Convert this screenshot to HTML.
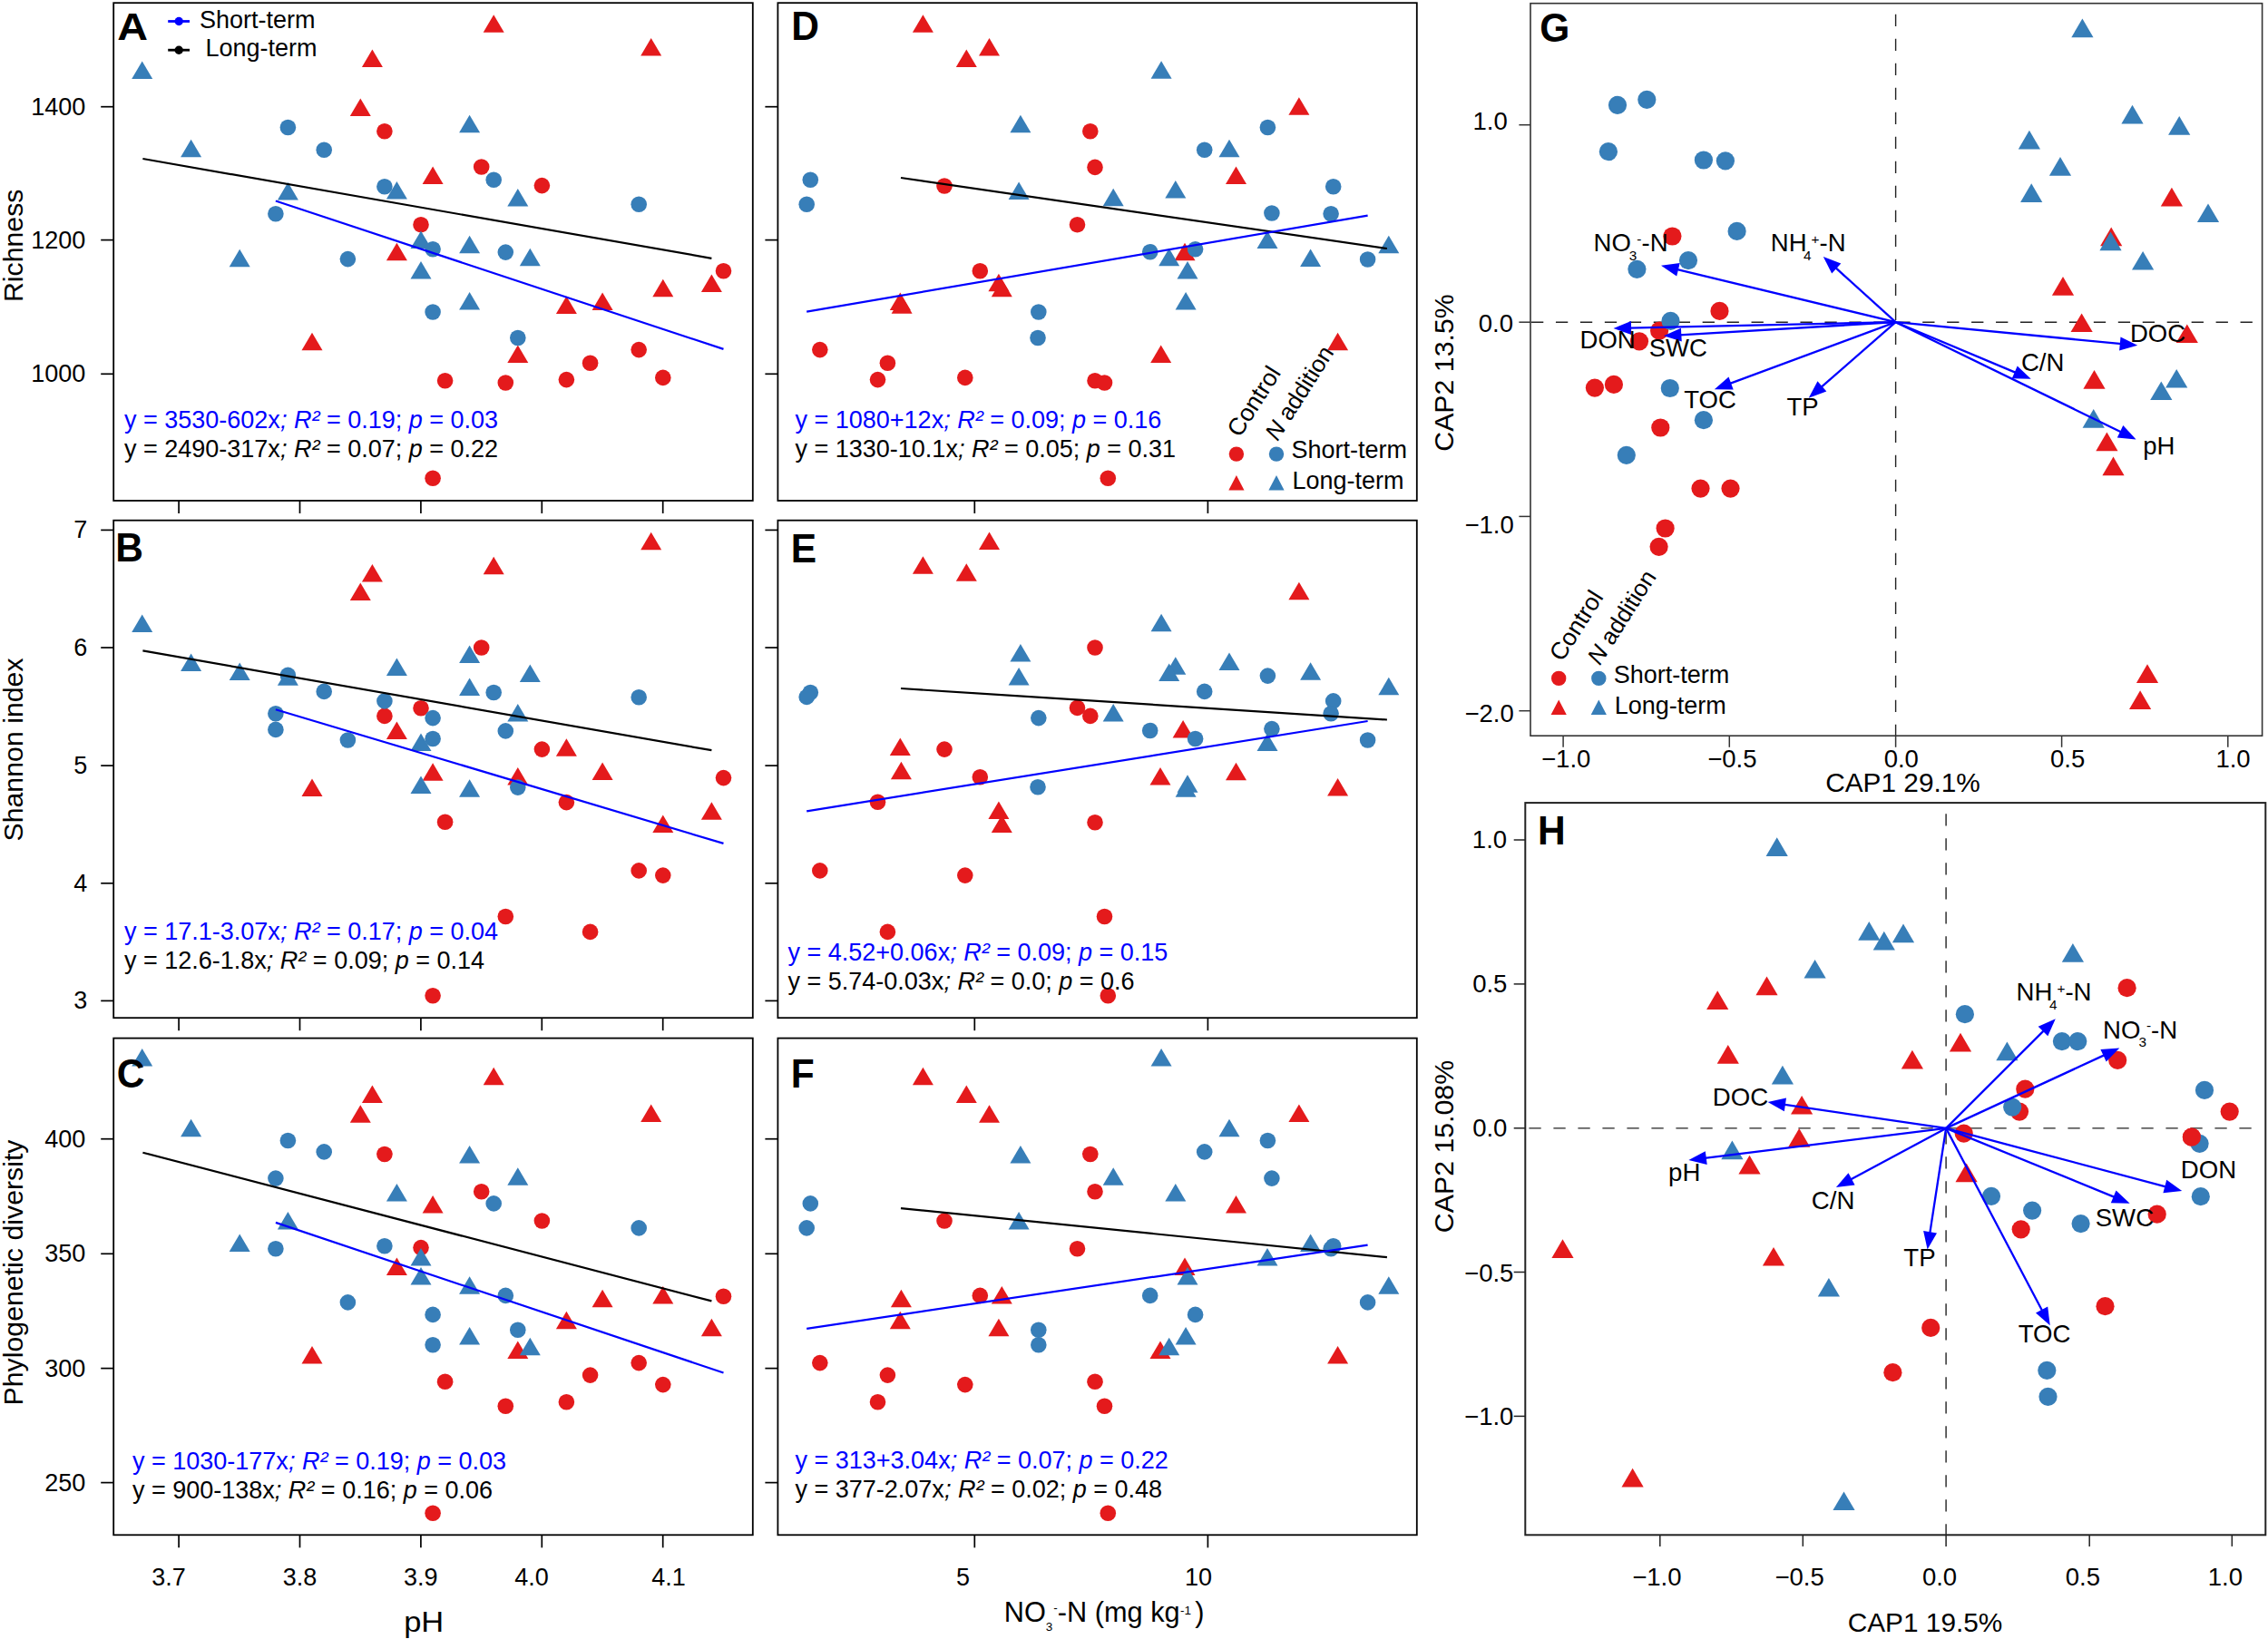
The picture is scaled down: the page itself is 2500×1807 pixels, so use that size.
<!DOCTYPE html><html><head><meta charset="utf-8"><title>Figure</title><style>html,body{margin:0;padding:0;background:#fff}svg{display:block}</style></head><body>
<svg width="2500" height="1807" viewBox="0 0 2500 1807" font-family="'Liberation Sans', sans-serif">
<rect width="2500" height="1807" fill="#fff"/>
<g>
<circle cx="423.9" cy="144.7" r="8.8" fill="#E41A1C"/>
<circle cx="530.7" cy="184" r="8.8" fill="#E41A1C"/>
<circle cx="597.4" cy="204.6" r="8.8" fill="#E41A1C"/>
<circle cx="464" cy="247.7" r="8.8" fill="#E41A1C"/>
<circle cx="797.5" cy="298.7" r="8.8" fill="#E41A1C"/>
<circle cx="490.6" cy="419.8" r="8.8" fill="#E41A1C"/>
<circle cx="557.3" cy="422" r="8.8" fill="#E41A1C"/>
<circle cx="624.4" cy="418.6" r="8.8" fill="#E41A1C"/>
<circle cx="650.6" cy="400.3" r="8.8" fill="#E41A1C"/>
<circle cx="704.2" cy="385.6" r="8.8" fill="#E41A1C"/>
<circle cx="730.8" cy="416.4" r="8.8" fill="#E41A1C"/>
<circle cx="477.1" cy="527.3" r="8.8" fill="#E41A1C"/>
<path d="M544.2 16.2L555.7 35.7L532.7 35.7Z" fill="#E41A1C"/>
<path d="M410.4 54.5L421.9 74L398.9 74Z" fill="#E41A1C"/>
<path d="M717.7 42.1L729.2 61.6L706.2 61.6Z" fill="#E41A1C"/>
<path d="M397.3 108.4L408.8 127.9L385.8 127.9Z" fill="#E41A1C"/>
<path d="M477.1 183.4L488.6 202.9L465.6 202.9Z" fill="#E41A1C"/>
<path d="M437.4 267.7L448.9 287.2L425.9 287.2Z" fill="#E41A1C"/>
<path d="M344 366.7L355.5 386.2L332.5 386.2Z" fill="#E41A1C"/>
<path d="M570.8 380.5L582.3 400L559.3 400Z" fill="#E41A1C"/>
<path d="M624.4 326.6L635.9 346.1L612.9 346.1Z" fill="#E41A1C"/>
<path d="M664.1 322.4L675.6 341.9L652.6 341.9Z" fill="#E41A1C"/>
<path d="M730.8 307.8L742.3 327.3L719.3 327.3Z" fill="#E41A1C"/>
<path d="M784.4 302.6L795.9 322.1L772.9 322.1Z" fill="#E41A1C"/>
<circle cx="317.4" cy="140.5" r="8.8" fill="#377EB8"/>
<circle cx="357.2" cy="165.3" r="8.8" fill="#377EB8"/>
<circle cx="303.9" cy="235.7" r="8.8" fill="#377EB8"/>
<circle cx="383.4" cy="285.6" r="8.8" fill="#377EB8"/>
<circle cx="423.9" cy="205.8" r="8.8" fill="#377EB8"/>
<circle cx="477.1" cy="274.7" r="8.8" fill="#377EB8"/>
<circle cx="477.1" cy="344" r="8.8" fill="#377EB8"/>
<circle cx="544.2" cy="198.3" r="8.8" fill="#377EB8"/>
<circle cx="557.3" cy="278.1" r="8.8" fill="#377EB8"/>
<circle cx="570.8" cy="372.5" r="8.8" fill="#377EB8"/>
<circle cx="704.2" cy="225.2" r="8.8" fill="#377EB8"/>
<path d="M156.7 67.6L168.2 87.1L145.2 87.1Z" fill="#377EB8"/>
<path d="M210.6 153.8L222.1 173.3L199.1 173.3Z" fill="#377EB8"/>
<path d="M264.2 274.8L275.7 294.3L252.7 294.3Z" fill="#377EB8"/>
<path d="M317.4 201L328.9 220.5L305.9 220.5Z" fill="#377EB8"/>
<path d="M437.4 199.9L448.9 219.4L425.9 219.4Z" fill="#377EB8"/>
<path d="M464 254.6L475.5 274.1L452.5 274.1Z" fill="#377EB8"/>
<path d="M464 287.9L475.5 307.4L452.5 307.4Z" fill="#377EB8"/>
<path d="M517.6 126.8L529.1 146.3L506.1 146.3Z" fill="#377EB8"/>
<path d="M517.6 259.8L529.1 279.3L506.1 279.3Z" fill="#377EB8"/>
<path d="M517.6 322.1L529.1 341.6L506.1 341.6Z" fill="#377EB8"/>
<path d="M570.8 208.1L582.3 227.6L559.3 227.6Z" fill="#377EB8"/>
<path d="M584.3 273.7L595.8 293.2L572.8 293.2Z" fill="#377EB8"/>
<line x1="157.4" y1="175" x2="784.4" y2="284.8" stroke="#000" stroke-width="2.2"/>
<line x1="303.9" y1="221.5" x2="797.5" y2="384.9" stroke="#0000FF" stroke-width="2.2"/>
<rect x="125.2" y="3.2" width="704.6" height="548.8" fill="none" stroke="#000" stroke-width="1.8"/>
<line x1="197.1" y1="552" x2="197.1" y2="566" stroke="#000" stroke-width="1.7"/>
<line x1="330.5" y1="552" x2="330.5" y2="566" stroke="#000" stroke-width="1.7"/>
<line x1="463.9" y1="552" x2="463.9" y2="566" stroke="#000" stroke-width="1.7"/>
<line x1="597.3" y1="552" x2="597.3" y2="566" stroke="#000" stroke-width="1.7"/>
<line x1="730.7" y1="552" x2="730.7" y2="566" stroke="#000" stroke-width="1.7"/>
<line x1="111.2" y1="117.7" x2="125.2" y2="117.7" stroke="#000" stroke-width="1.7"/>
<text x="94.4" y="126.6" font-size="27" text-anchor="end" fill="#000">1400</text>
<line x1="111.2" y1="264.6" x2="125.2" y2="264.6" stroke="#000" stroke-width="1.7"/>
<text x="94.4" y="273.5" font-size="27" text-anchor="end" fill="#000">1200</text>
<line x1="111.2" y1="412.3" x2="125.2" y2="412.3" stroke="#000" stroke-width="1.7"/>
<text x="94.4" y="421.2" font-size="27" text-anchor="end" fill="#000">1000</text>
</g>
<g>
<circle cx="530.7" cy="714" r="8.8" fill="#E41A1C"/>
<circle cx="464" cy="780.7" r="8.8" fill="#E41A1C"/>
<circle cx="423.9" cy="789.4" r="8.8" fill="#E41A1C"/>
<circle cx="597.4" cy="826.1" r="8.8" fill="#E41A1C"/>
<circle cx="797.5" cy="857.6" r="8.8" fill="#E41A1C"/>
<circle cx="624.4" cy="884.6" r="8.8" fill="#E41A1C"/>
<circle cx="490.6" cy="906.3" r="8.8" fill="#E41A1C"/>
<circle cx="704.2" cy="959.9" r="8.8" fill="#E41A1C"/>
<circle cx="730.8" cy="965.1" r="8.8" fill="#E41A1C"/>
<circle cx="557.3" cy="1010.5" r="8.8" fill="#E41A1C"/>
<circle cx="650.6" cy="1027.4" r="8.8" fill="#E41A1C"/>
<circle cx="477.1" cy="1097.8" r="8.8" fill="#E41A1C"/>
<path d="M717.7 586.7L729.2 606.2L706.2 606.2Z" fill="#E41A1C"/>
<path d="M544.2 613.7L555.7 633.2L532.7 633.2Z" fill="#E41A1C"/>
<path d="M410.4 622L421.9 641.5L398.9 641.5Z" fill="#E41A1C"/>
<path d="M397.3 642.6L408.8 662.1L385.8 662.1Z" fill="#E41A1C"/>
<path d="M437.4 795.5L448.9 815L425.9 815Z" fill="#E41A1C"/>
<path d="M624.4 814.2L635.9 833.7L612.9 833.7Z" fill="#E41A1C"/>
<path d="M477.1 841.2L488.6 860.7L465.6 860.7Z" fill="#E41A1C"/>
<path d="M664.1 840.5L675.6 860L652.6 860Z" fill="#E41A1C"/>
<path d="M344 858.4L355.5 877.9L332.5 877.9Z" fill="#E41A1C"/>
<path d="M570.8 846.1L582.3 865.6L559.3 865.6Z" fill="#E41A1C"/>
<path d="M730.8 898.5L742.3 918L719.3 918Z" fill="#E41A1C"/>
<path d="M784.4 884.3L795.9 903.8L772.9 903.8Z" fill="#E41A1C"/>
<circle cx="317.4" cy="744.4" r="8.8" fill="#377EB8"/>
<circle cx="357.2" cy="762.4" r="8.8" fill="#377EB8"/>
<circle cx="303.9" cy="786.7" r="8.8" fill="#377EB8"/>
<circle cx="303.9" cy="804.4" r="8.8" fill="#377EB8"/>
<circle cx="383.4" cy="816" r="8.8" fill="#377EB8"/>
<circle cx="423.9" cy="772.9" r="8.8" fill="#377EB8"/>
<circle cx="477.1" cy="791.6" r="8.8" fill="#377EB8"/>
<circle cx="477.1" cy="814.5" r="8.8" fill="#377EB8"/>
<circle cx="544.2" cy="763.5" r="8.8" fill="#377EB8"/>
<circle cx="557.3" cy="805.9" r="8.8" fill="#377EB8"/>
<circle cx="570.8" cy="868.1" r="8.8" fill="#377EB8"/>
<circle cx="704.2" cy="768.8" r="8.8" fill="#377EB8"/>
<path d="M156.7 677.4L168.2 696.9L145.2 696.9Z" fill="#377EB8"/>
<path d="M210.6 720.5L222.1 740L199.1 740Z" fill="#377EB8"/>
<path d="M264.2 730.6L275.7 750.1L252.7 750.1Z" fill="#377EB8"/>
<path d="M317.4 736.3L328.9 755.8L305.9 755.8Z" fill="#377EB8"/>
<path d="M437.4 725.4L448.9 744.9L425.9 744.9Z" fill="#377EB8"/>
<path d="M464 808.6L475.5 828.1L452.5 828.1Z" fill="#377EB8"/>
<path d="M464 855.4L475.5 874.9L452.5 874.9Z" fill="#377EB8"/>
<path d="M517.6 711.5L529.1 731L506.1 731Z" fill="#377EB8"/>
<path d="M517.6 747.5L529.1 767L506.1 767Z" fill="#377EB8"/>
<path d="M517.6 859.2L529.1 878.7L506.1 878.7Z" fill="#377EB8"/>
<path d="M570.8 776L582.3 795.5L559.3 795.5Z" fill="#377EB8"/>
<path d="M584.3 732.5L595.8 752L572.8 752Z" fill="#377EB8"/>
<line x1="157.4" y1="717.4" x2="784.4" y2="827.2" stroke="#000" stroke-width="2.2"/>
<line x1="303.9" y1="782.2" x2="797.5" y2="929.9" stroke="#0000FF" stroke-width="2.2"/>
<rect x="125.2" y="573.7" width="704.6" height="548.5" fill="none" stroke="#000" stroke-width="1.8"/>
<line x1="197.1" y1="1122.2" x2="197.1" y2="1136.2" stroke="#000" stroke-width="1.7"/>
<line x1="330.5" y1="1122.2" x2="330.5" y2="1136.2" stroke="#000" stroke-width="1.7"/>
<line x1="463.9" y1="1122.2" x2="463.9" y2="1136.2" stroke="#000" stroke-width="1.7"/>
<line x1="597.3" y1="1122.2" x2="597.3" y2="1136.2" stroke="#000" stroke-width="1.7"/>
<line x1="730.7" y1="1122.2" x2="730.7" y2="1136.2" stroke="#000" stroke-width="1.7"/>
<line x1="111.2" y1="584.4" x2="125.2" y2="584.4" stroke="#000" stroke-width="1.7"/>
<text x="96.2" y="593.3" font-size="27" text-anchor="end" fill="#000">7</text>
<line x1="111.2" y1="714" x2="125.2" y2="714" stroke="#000" stroke-width="1.7"/>
<text x="96.2" y="722.9" font-size="27" text-anchor="end" fill="#000">6</text>
<line x1="111.2" y1="844.1" x2="125.2" y2="844.1" stroke="#000" stroke-width="1.7"/>
<text x="96.2" y="853" font-size="27" text-anchor="end" fill="#000">5</text>
<line x1="111.2" y1="973.8" x2="125.2" y2="973.8" stroke="#000" stroke-width="1.7"/>
<text x="96.2" y="982.7" font-size="27" text-anchor="end" fill="#000">4</text>
<line x1="111.2" y1="1103.4" x2="125.2" y2="1103.4" stroke="#000" stroke-width="1.7"/>
<text x="96.2" y="1112.3" font-size="27" text-anchor="end" fill="#000">3</text>
</g>
<g>
<circle cx="423.9" cy="1272.5" r="8.8" fill="#E41A1C"/>
<circle cx="530.7" cy="1313.8" r="8.8" fill="#E41A1C"/>
<circle cx="597.4" cy="1346" r="8.8" fill="#E41A1C"/>
<circle cx="464" cy="1375.6" r="8.8" fill="#E41A1C"/>
<circle cx="797.5" cy="1429.2" r="8.8" fill="#E41A1C"/>
<circle cx="490.6" cy="1523.3" r="8.8" fill="#E41A1C"/>
<circle cx="557.3" cy="1550.2" r="8.8" fill="#E41A1C"/>
<circle cx="624.4" cy="1545.7" r="8.8" fill="#E41A1C"/>
<circle cx="650.6" cy="1516.1" r="8.8" fill="#E41A1C"/>
<circle cx="704.2" cy="1502.6" r="8.8" fill="#E41A1C"/>
<circle cx="730.8" cy="1526.6" r="8.8" fill="#E41A1C"/>
<circle cx="477.1" cy="1668.3" r="8.8" fill="#E41A1C"/>
<path d="M544.2 1176.7L555.7 1196.2L532.7 1196.2Z" fill="#E41A1C"/>
<path d="M410.4 1196.6L421.9 1216.1L398.9 1216.1Z" fill="#E41A1C"/>
<path d="M397.3 1218.3L408.8 1237.8L385.8 1237.8Z" fill="#E41A1C"/>
<path d="M717.7 1217.6L729.2 1237.1L706.2 1237.1Z" fill="#E41A1C"/>
<path d="M477.1 1318L488.6 1337.5L465.6 1337.5Z" fill="#E41A1C"/>
<path d="M437.4 1386.6L448.9 1406.1L425.9 1406.1Z" fill="#E41A1C"/>
<path d="M344 1484L355.5 1503.5L332.5 1503.5Z" fill="#E41A1C"/>
<path d="M570.8 1478.4L582.3 1497.9L559.3 1497.9Z" fill="#E41A1C"/>
<path d="M624.4 1445.8L635.9 1465.3L612.9 1465.3Z" fill="#E41A1C"/>
<path d="M664.1 1421.8L675.6 1441.3L652.6 1441.3Z" fill="#E41A1C"/>
<path d="M730.8 1418.1L742.3 1437.6L719.3 1437.6Z" fill="#E41A1C"/>
<path d="M784.4 1453.7L795.9 1473.2L772.9 1473.2Z" fill="#E41A1C"/>
<circle cx="317.4" cy="1257.5" r="8.8" fill="#377EB8"/>
<circle cx="357.2" cy="1269.9" r="8.8" fill="#377EB8"/>
<circle cx="303.9" cy="1299.1" r="8.8" fill="#377EB8"/>
<circle cx="303.9" cy="1376.7" r="8.8" fill="#377EB8"/>
<circle cx="423.9" cy="1373.7" r="8.8" fill="#377EB8"/>
<circle cx="383.4" cy="1435.9" r="8.8" fill="#377EB8"/>
<circle cx="477.1" cy="1449.4" r="8.8" fill="#377EB8"/>
<circle cx="477.1" cy="1482.8" r="8.8" fill="#377EB8"/>
<circle cx="544.2" cy="1326.9" r="8.8" fill="#377EB8"/>
<circle cx="557.3" cy="1428.4" r="8.8" fill="#377EB8"/>
<circle cx="570.8" cy="1466.3" r="8.8" fill="#377EB8"/>
<circle cx="704.2" cy="1353.9" r="8.8" fill="#377EB8"/>
<path d="M156.7 1156.1L168.2 1175.6L145.2 1175.6Z" fill="#377EB8"/>
<path d="M210.6 1233.7L222.1 1253.2L199.1 1253.2Z" fill="#377EB8"/>
<path d="M264.2 1360.4L275.7 1379.9L252.7 1379.9Z" fill="#377EB8"/>
<path d="M317.4 1336L328.9 1355.5L305.9 1355.5Z" fill="#377EB8"/>
<path d="M437.4 1304.9L448.9 1324.4L425.9 1324.4Z" fill="#377EB8"/>
<path d="M464 1376.1L475.5 1395.6L452.5 1395.6Z" fill="#377EB8"/>
<path d="M464 1397.1L475.5 1416.6L452.5 1416.6Z" fill="#377EB8"/>
<path d="M517.6 1262.9L529.1 1282.4L506.1 1282.4Z" fill="#377EB8"/>
<path d="M517.6 1407.2L529.1 1426.7L506.1 1426.7Z" fill="#377EB8"/>
<path d="M517.6 1463L529.1 1482.5L506.1 1482.5Z" fill="#377EB8"/>
<path d="M570.8 1287.3L582.3 1306.8L559.3 1306.8Z" fill="#377EB8"/>
<path d="M584.3 1474.7L595.8 1494.2L572.8 1494.2Z" fill="#377EB8"/>
<line x1="157.4" y1="1270.7" x2="784.4" y2="1434.4" stroke="#000" stroke-width="2.2"/>
<line x1="303.9" y1="1347.9" x2="797.5" y2="1513.5" stroke="#0000FF" stroke-width="2.2"/>
<rect x="125.2" y="1144.6" width="704.6" height="547.7" fill="none" stroke="#000" stroke-width="1.8"/>
<line x1="197.1" y1="1692.3" x2="197.1" y2="1706.3" stroke="#000" stroke-width="1.7"/>
<line x1="330.5" y1="1692.3" x2="330.5" y2="1706.3" stroke="#000" stroke-width="1.7"/>
<line x1="463.9" y1="1692.3" x2="463.9" y2="1706.3" stroke="#000" stroke-width="1.7"/>
<line x1="597.3" y1="1692.3" x2="597.3" y2="1706.3" stroke="#000" stroke-width="1.7"/>
<line x1="730.7" y1="1692.3" x2="730.7" y2="1706.3" stroke="#000" stroke-width="1.7"/>
<line x1="111.2" y1="1255.7" x2="125.2" y2="1255.7" stroke="#000" stroke-width="1.7"/>
<text x="94.4" y="1264.6" font-size="27" text-anchor="end" fill="#000">400</text>
<line x1="111.2" y1="1382.3" x2="125.2" y2="1382.3" stroke="#000" stroke-width="1.7"/>
<text x="94.4" y="1391.2" font-size="27" text-anchor="end" fill="#000">350</text>
<line x1="111.2" y1="1508.6" x2="125.2" y2="1508.6" stroke="#000" stroke-width="1.7"/>
<text x="94.4" y="1517.5" font-size="27" text-anchor="end" fill="#000">300</text>
<line x1="111.2" y1="1634.6" x2="125.2" y2="1634.6" stroke="#000" stroke-width="1.7"/>
<text x="94.4" y="1643.5" font-size="27" text-anchor="end" fill="#000">250</text>
</g>
<g>
<circle cx="1201.8" cy="144.7" r="8.8" fill="#E41A1C"/>
<circle cx="1207" cy="184.4" r="8.8" fill="#E41A1C"/>
<circle cx="1041" cy="205" r="8.8" fill="#E41A1C"/>
<circle cx="1187.5" cy="247.7" r="8.8" fill="#E41A1C"/>
<circle cx="1080.3" cy="298.7" r="8.8" fill="#E41A1C"/>
<circle cx="903.8" cy="385.6" r="8.8" fill="#E41A1C"/>
<circle cx="978.4" cy="400.3" r="8.8" fill="#E41A1C"/>
<circle cx="967.5" cy="418.6" r="8.8" fill="#E41A1C"/>
<circle cx="1063.8" cy="416.4" r="8.8" fill="#E41A1C"/>
<circle cx="1207" cy="419.8" r="8.8" fill="#E41A1C"/>
<circle cx="1217.5" cy="422" r="8.8" fill="#E41A1C"/>
<circle cx="1221.3" cy="527.3" r="8.8" fill="#E41A1C"/>
<path d="M1017.4 16.2L1028.9 35.7L1005.9 35.7Z" fill="#E41A1C"/>
<path d="M1090.5 42.1L1102 61.6L1079 61.6Z" fill="#E41A1C"/>
<path d="M1065.3 54.5L1076.8 74L1053.8 74Z" fill="#E41A1C"/>
<path d="M1431.9 107.3L1443.4 126.8L1420.4 126.8Z" fill="#E41A1C"/>
<path d="M1362.5 183.4L1374 202.9L1351 202.9Z" fill="#E41A1C"/>
<path d="M1306 267.7L1317.5 287.2L1294.5 287.2Z" fill="#E41A1C"/>
<path d="M1100.9 301.8L1112.4 321.3L1089.4 321.3Z" fill="#E41A1C"/>
<path d="M1104.3 307.8L1115.8 327.3L1092.8 327.3Z" fill="#E41A1C"/>
<path d="M992.3 322.4L1003.8 341.9L980.8 341.9Z" fill="#E41A1C"/>
<path d="M994.1 326.2L1005.6 345.7L982.6 345.7Z" fill="#E41A1C"/>
<path d="M1279.7 380.5L1291.2 400L1268.2 400Z" fill="#E41A1C"/>
<path d="M1474.6 366.7L1486.1 386.2L1463.1 386.2Z" fill="#E41A1C"/>
<circle cx="893.3" cy="198.3" r="8.8" fill="#377EB8"/>
<circle cx="889.2" cy="225.2" r="8.8" fill="#377EB8"/>
<circle cx="1397.4" cy="140.5" r="8.8" fill="#377EB8"/>
<circle cx="1327.7" cy="165.3" r="8.8" fill="#377EB8"/>
<circle cx="1469.7" cy="205.8" r="8.8" fill="#377EB8"/>
<circle cx="1401.9" cy="235" r="8.8" fill="#377EB8"/>
<circle cx="1467.1" cy="235.7" r="8.8" fill="#377EB8"/>
<circle cx="1267.7" cy="277.7" r="8.8" fill="#377EB8"/>
<circle cx="1317.6" cy="274.7" r="8.8" fill="#377EB8"/>
<circle cx="1507.6" cy="286" r="8.8" fill="#377EB8"/>
<circle cx="1144.8" cy="344" r="8.8" fill="#377EB8"/>
<circle cx="1144" cy="372.5" r="8.8" fill="#377EB8"/>
<path d="M1280.1 67.2L1291.6 86.7L1268.6 86.7Z" fill="#377EB8"/>
<path d="M1124.9 126.8L1136.4 146.3L1113.4 146.3Z" fill="#377EB8"/>
<path d="M1355 153.8L1366.5 173.3L1343.5 173.3Z" fill="#377EB8"/>
<path d="M1123.1 200.6L1134.6 220.1L1111.6 220.1Z" fill="#377EB8"/>
<path d="M1295.8 199.1L1307.3 218.6L1284.3 218.6Z" fill="#377EB8"/>
<path d="M1227.2 207.7L1238.7 227.2L1215.7 227.2Z" fill="#377EB8"/>
<path d="M1397 254.6L1408.5 274.1L1385.5 274.1Z" fill="#377EB8"/>
<path d="M1288.7 273.7L1300.2 293.2L1277.2 293.2Z" fill="#377EB8"/>
<path d="M1309 287.9L1320.5 307.4L1297.5 307.4Z" fill="#377EB8"/>
<path d="M1307.1 322.1L1318.6 341.6L1295.6 341.6Z" fill="#377EB8"/>
<path d="M1444.6 274.5L1456.1 294L1433.1 294Z" fill="#377EB8"/>
<path d="M1530.8 259.8L1542.3 279.3L1519.3 279.3Z" fill="#377EB8"/>
<line x1="993" y1="196" x2="1528.9" y2="274" stroke="#000" stroke-width="2.2"/>
<line x1="889.2" y1="343.7" x2="1507.6" y2="237.6" stroke="#0000FF" stroke-width="2.2"/>
<rect x="857.4" y="3.2" width="704.4" height="548.8" fill="none" stroke="#000" stroke-width="1.8"/>
<line x1="1074.3" y1="552" x2="1074.3" y2="566" stroke="#000" stroke-width="1.7"/>
<line x1="1331.4" y1="552" x2="1331.4" y2="566" stroke="#000" stroke-width="1.7"/>
<line x1="843.4" y1="117.7" x2="857.4" y2="117.7" stroke="#000" stroke-width="1.7"/>
<line x1="843.4" y1="264.6" x2="857.4" y2="264.6" stroke="#000" stroke-width="1.7"/>
<line x1="843.4" y1="412.3" x2="857.4" y2="412.3" stroke="#000" stroke-width="1.7"/>
</g>
<g>
<circle cx="1207" cy="714" r="8.8" fill="#E41A1C"/>
<circle cx="1187.5" cy="780.4" r="8.8" fill="#E41A1C"/>
<circle cx="1201.8" cy="789.4" r="8.8" fill="#E41A1C"/>
<circle cx="1041" cy="826.1" r="8.8" fill="#E41A1C"/>
<circle cx="1080.3" cy="856.8" r="8.8" fill="#E41A1C"/>
<circle cx="967.5" cy="884.2" r="8.8" fill="#E41A1C"/>
<circle cx="1207" cy="906.7" r="8.8" fill="#E41A1C"/>
<circle cx="903.8" cy="959.9" r="8.8" fill="#E41A1C"/>
<circle cx="1063.8" cy="965.1" r="8.8" fill="#E41A1C"/>
<circle cx="1217.5" cy="1010.5" r="8.8" fill="#E41A1C"/>
<circle cx="978.4" cy="1027.4" r="8.8" fill="#E41A1C"/>
<circle cx="1221.3" cy="1097.8" r="8.8" fill="#E41A1C"/>
<path d="M1090.5 586.4L1102 605.9L1079 605.9Z" fill="#E41A1C"/>
<path d="M1017.4 613.3L1028.9 632.8L1005.9 632.8Z" fill="#E41A1C"/>
<path d="M1065.3 621.2L1076.8 640.7L1053.8 640.7Z" fill="#E41A1C"/>
<path d="M1431.9 641.8L1443.4 661.3L1420.4 661.3Z" fill="#E41A1C"/>
<path d="M1304.1 794L1315.6 813.5L1292.6 813.5Z" fill="#E41A1C"/>
<path d="M992.3 813.5L1003.8 833L980.8 833Z" fill="#E41A1C"/>
<path d="M993.4 839.7L1004.9 859.2L981.9 859.2Z" fill="#E41A1C"/>
<path d="M1279 846.1L1290.5 865.6L1267.5 865.6Z" fill="#E41A1C"/>
<path d="M1362.5 840.8L1374 860.3L1351 860.3Z" fill="#E41A1C"/>
<path d="M1474.6 858.1L1486.1 877.6L1463.1 877.6Z" fill="#E41A1C"/>
<path d="M1100.9 883.6L1112.4 903.1L1089.4 903.1Z" fill="#E41A1C"/>
<path d="M1104.3 898.5L1115.8 918L1092.8 918Z" fill="#E41A1C"/>
<circle cx="893.3" cy="763.5" r="8.8" fill="#377EB8"/>
<circle cx="889.2" cy="768.4" r="8.8" fill="#377EB8"/>
<circle cx="1397.4" cy="745.1" r="8.8" fill="#377EB8"/>
<circle cx="1327.7" cy="762.4" r="8.8" fill="#377EB8"/>
<circle cx="1469.7" cy="772.9" r="8.8" fill="#377EB8"/>
<circle cx="1467.1" cy="786.7" r="8.8" fill="#377EB8"/>
<circle cx="1144.8" cy="791.6" r="8.8" fill="#377EB8"/>
<circle cx="1267.7" cy="805.5" r="8.8" fill="#377EB8"/>
<circle cx="1401.9" cy="803.6" r="8.8" fill="#377EB8"/>
<circle cx="1317.6" cy="814.5" r="8.8" fill="#377EB8"/>
<circle cx="1507.6" cy="816" r="8.8" fill="#377EB8"/>
<circle cx="1144" cy="867.7" r="8.8" fill="#377EB8"/>
<path d="M1280.1 676.7L1291.6 696.2L1268.6 696.2Z" fill="#377EB8"/>
<path d="M1124.9 710L1136.4 729.5L1113.4 729.5Z" fill="#377EB8"/>
<path d="M1123.1 735.9L1134.6 755.4L1111.6 755.4Z" fill="#377EB8"/>
<path d="M1295.8 724.3L1307.3 743.8L1284.3 743.8Z" fill="#377EB8"/>
<path d="M1288.7 731.4L1300.2 750.9L1277.2 750.9Z" fill="#377EB8"/>
<path d="M1355 719.4L1366.5 738.9L1343.5 738.9Z" fill="#377EB8"/>
<path d="M1444.6 730.3L1456.1 749.8L1433.1 749.8Z" fill="#377EB8"/>
<path d="M1530.8 746.8L1542.3 766.3L1519.3 766.3Z" fill="#377EB8"/>
<path d="M1227.2 776L1238.7 795.5L1215.7 795.5Z" fill="#377EB8"/>
<path d="M1397 808.6L1408.5 828.1L1385.5 828.1Z" fill="#377EB8"/>
<path d="M1309 854.3L1320.5 873.8L1297.5 873.8Z" fill="#377EB8"/>
<path d="M1307.1 859.2L1318.6 878.7L1295.6 878.7Z" fill="#377EB8"/>
<line x1="993" y1="759" x2="1528.9" y2="793.5" stroke="#000" stroke-width="2.2"/>
<line x1="889.2" y1="894.3" x2="1507.6" y2="795" stroke="#0000FF" stroke-width="2.2"/>
<rect x="857.4" y="573.7" width="704.4" height="548.5" fill="none" stroke="#000" stroke-width="1.8"/>
<line x1="1074.3" y1="1122.2" x2="1074.3" y2="1136.2" stroke="#000" stroke-width="1.7"/>
<line x1="1331.4" y1="1122.2" x2="1331.4" y2="1136.2" stroke="#000" stroke-width="1.7"/>
<line x1="843.4" y1="584.4" x2="857.4" y2="584.4" stroke="#000" stroke-width="1.7"/>
<line x1="843.4" y1="714" x2="857.4" y2="714" stroke="#000" stroke-width="1.7"/>
<line x1="843.4" y1="844.1" x2="857.4" y2="844.1" stroke="#000" stroke-width="1.7"/>
<line x1="843.4" y1="973.8" x2="857.4" y2="973.8" stroke="#000" stroke-width="1.7"/>
<line x1="843.4" y1="1103.4" x2="857.4" y2="1103.4" stroke="#000" stroke-width="1.7"/>
</g>
<g>
<circle cx="1201.8" cy="1272.5" r="8.8" fill="#E41A1C"/>
<circle cx="1207" cy="1313.8" r="8.8" fill="#E41A1C"/>
<circle cx="1041" cy="1346" r="8.8" fill="#E41A1C"/>
<circle cx="1187.5" cy="1376.7" r="8.8" fill="#E41A1C"/>
<circle cx="1080.3" cy="1428.4" r="8.8" fill="#E41A1C"/>
<circle cx="903.8" cy="1502.6" r="8.8" fill="#E41A1C"/>
<circle cx="978.4" cy="1516.1" r="8.8" fill="#E41A1C"/>
<circle cx="1063.8" cy="1526.6" r="8.8" fill="#E41A1C"/>
<circle cx="1207" cy="1523.3" r="8.8" fill="#E41A1C"/>
<circle cx="967.5" cy="1545.7" r="8.8" fill="#E41A1C"/>
<circle cx="1217.5" cy="1550.2" r="8.8" fill="#E41A1C"/>
<circle cx="1221.3" cy="1668.3" r="8.8" fill="#E41A1C"/>
<path d="M1017.4 1176.7L1028.9 1196.2L1005.9 1196.2Z" fill="#E41A1C"/>
<path d="M1065.3 1196.6L1076.8 1216.1L1053.8 1216.1Z" fill="#E41A1C"/>
<path d="M1090.5 1218.3L1102 1237.8L1079 1237.8Z" fill="#E41A1C"/>
<path d="M1431.9 1217.6L1443.4 1237.1L1420.4 1237.1Z" fill="#E41A1C"/>
<path d="M1362.5 1318L1374 1337.5L1351 1337.5Z" fill="#E41A1C"/>
<path d="M1306 1386.6L1317.5 1406.1L1294.5 1406.1Z" fill="#E41A1C"/>
<path d="M993.4 1421.8L1004.9 1441.3L981.9 1441.3Z" fill="#E41A1C"/>
<path d="M1104.3 1418.1L1115.8 1437.6L1092.8 1437.6Z" fill="#E41A1C"/>
<path d="M992.3 1445.8L1003.8 1465.3L980.8 1465.3Z" fill="#E41A1C"/>
<path d="M1100.9 1453.7L1112.4 1473.2L1089.4 1473.2Z" fill="#E41A1C"/>
<path d="M1279 1478.4L1290.5 1497.9L1267.5 1497.9Z" fill="#E41A1C"/>
<path d="M1474.6 1484L1486.1 1503.5L1463.1 1503.5Z" fill="#E41A1C"/>
<circle cx="893.3" cy="1326.9" r="8.8" fill="#377EB8"/>
<circle cx="889.2" cy="1353.9" r="8.8" fill="#377EB8"/>
<circle cx="1397.4" cy="1257.5" r="8.8" fill="#377EB8"/>
<circle cx="1327.7" cy="1269.9" r="8.8" fill="#377EB8"/>
<circle cx="1401.9" cy="1299.1" r="8.8" fill="#377EB8"/>
<circle cx="1469.7" cy="1373.7" r="8.8" fill="#377EB8"/>
<circle cx="1467.1" cy="1376.7" r="8.8" fill="#377EB8"/>
<circle cx="1267.7" cy="1428.4" r="8.8" fill="#377EB8"/>
<circle cx="1317.6" cy="1449.4" r="8.8" fill="#377EB8"/>
<circle cx="1507.6" cy="1435.9" r="8.8" fill="#377EB8"/>
<circle cx="1144.8" cy="1466.3" r="8.8" fill="#377EB8"/>
<circle cx="1144.8" cy="1482.8" r="8.8" fill="#377EB8"/>
<path d="M1280.1 1156.1L1291.6 1175.6L1268.6 1175.6Z" fill="#377EB8"/>
<path d="M1355 1233.7L1366.5 1253.2L1343.5 1253.2Z" fill="#377EB8"/>
<path d="M1124.9 1262.9L1136.4 1282.4L1113.4 1282.4Z" fill="#377EB8"/>
<path d="M1227.2 1287.3L1238.7 1306.8L1215.7 1306.8Z" fill="#377EB8"/>
<path d="M1295.8 1304.9L1307.3 1324.4L1284.3 1324.4Z" fill="#377EB8"/>
<path d="M1123.1 1336L1134.6 1355.5L1111.6 1355.5Z" fill="#377EB8"/>
<path d="M1444.6 1360.4L1456.1 1379.9L1433.1 1379.9Z" fill="#377EB8"/>
<path d="M1397 1376.1L1408.5 1395.6L1385.5 1395.6Z" fill="#377EB8"/>
<path d="M1309 1397.1L1320.5 1416.6L1297.5 1416.6Z" fill="#377EB8"/>
<path d="M1530.8 1407.2L1542.3 1426.7L1519.3 1426.7Z" fill="#377EB8"/>
<path d="M1307.1 1463L1318.6 1482.5L1295.6 1482.5Z" fill="#377EB8"/>
<path d="M1288.7 1474.7L1300.2 1494.2L1277.2 1494.2Z" fill="#377EB8"/>
<line x1="993" y1="1332.1" x2="1528.9" y2="1386.1" stroke="#000" stroke-width="2.2"/>
<line x1="889.2" y1="1464.8" x2="1507.6" y2="1372.6" stroke="#0000FF" stroke-width="2.2"/>
<rect x="857.4" y="1144.6" width="704.4" height="547.7" fill="none" stroke="#000" stroke-width="1.8"/>
<line x1="1074.3" y1="1692.3" x2="1074.3" y2="1706.3" stroke="#000" stroke-width="1.7"/>
<line x1="1331.4" y1="1692.3" x2="1331.4" y2="1706.3" stroke="#000" stroke-width="1.7"/>
<line x1="843.4" y1="1255.7" x2="857.4" y2="1255.7" stroke="#000" stroke-width="1.7"/>
<line x1="843.4" y1="1382.3" x2="857.4" y2="1382.3" stroke="#000" stroke-width="1.7"/>
<line x1="843.4" y1="1508.6" x2="857.4" y2="1508.6" stroke="#000" stroke-width="1.7"/>
<line x1="843.4" y1="1634.6" x2="857.4" y2="1634.6" stroke="#000" stroke-width="1.7"/>
</g>
<text x="186" y="1748" font-size="27" text-anchor="middle" fill="#000">3.7</text>
<text x="330.4" y="1748" font-size="27" text-anchor="middle" fill="#000">3.8</text>
<text x="463.8" y="1748" font-size="27" text-anchor="middle" fill="#000">3.9</text>
<text x="585.9" y="1748" font-size="27" text-anchor="middle" fill="#000">4.0</text>
<text x="737.1" y="1748" font-size="27" text-anchor="middle" fill="#000">4.1</text>
<text x="1061.6" y="1748" font-size="27" text-anchor="middle" fill="#000">5</text>
<text x="1321" y="1748" font-size="27" text-anchor="middle" fill="#000">10</text>
<text transform="translate(445.2,1798.6) scale(1.13,1)" font-size="30.5">pH</text>
<text x="1106.8" y="1788.1" font-size="30.7">NO<tspan font-size="13.5" dy="9.7">3</tspan><tspan font-size="13.5" dx="1" dy="-21">-</tspan><tspan dy="11.3">-N (mg kg</tspan><tspan font-size="13.5" dx="0.5" dy="-8.6">-1</tspan><tspan dy="8.6" dx="4.3">)</tspan></text>
<text transform="translate(25.4,270.8) rotate(-90)" font-size="30.3" text-anchor="middle">Richness</text>
<text transform="translate(25.4,826.5) rotate(-90)" font-size="30.3" text-anchor="middle">Shannon index</text>
<text transform="translate(25.4,1403) rotate(-90)" font-size="30.3" text-anchor="middle">Phylogenetic diversity</text>
<text transform="translate(1602,411) rotate(-90)" font-size="30.3" text-anchor="middle">CAP2 13.5%</text>
<text transform="translate(1602,1264) rotate(-90)" font-size="30.3" text-anchor="middle">CAP2 15.08%</text>
<text transform="translate(129.2,43.7) scale(1.1,1)" font-size="42.5" font-weight="bold">A</text>
<text transform="translate(127.2,618.6) scale(1,1.06)" font-size="42.5" font-weight="bold">B</text>
<text transform="translate(128.8,1198.5) scale(1,1.06)" font-size="42.5" font-weight="bold">C</text>
<text transform="translate(872.3,44.3) scale(1,1.06)" font-size="42.5" font-weight="bold">D</text>
<text transform="translate(871.8,620.4) scale(1,1.06)" font-size="42.5" font-weight="bold">E</text>
<text transform="translate(871.8,1198.5) scale(1,1.06)" font-size="42.5" font-weight="bold">F</text>
<text transform="translate(1697.3,45.6) scale(1,1.06)" font-size="42.5" font-weight="bold">G</text>
<text transform="translate(1695,931.3) scale(1,1.06)" font-size="42.5" font-weight="bold">H</text>
<line x1="185.2" y1="23.5" x2="209" y2="23.5" stroke="#0000FF" stroke-width="2.8"/>
<circle cx="197.2" cy="23.5" r="4.7" fill="#0000FF"/>
<line x1="185.2" y1="55.2" x2="209" y2="55.2" stroke="#000" stroke-width="2.8"/>
<circle cx="197.2" cy="55.2" r="4.7" fill="#000"/>
<text x="220" y="31" font-size="27" text-anchor="start" fill="#000">Short-term</text>
<text x="226.5" y="62.2" font-size="27" text-anchor="start" fill="#000">Long-term</text>
<text x="137" y="472" font-size="27" fill="#0000FF">y = 3530-602x<tspan font-style="italic">; R²</tspan> = 0.19; <tspan font-style="italic">p</tspan> = 0.03</text>
<text x="137" y="504.2" font-size="27" fill="#000">y = 2490-317x<tspan font-style="italic">; R²</tspan> = 0.07; <tspan font-style="italic">p</tspan> = 0.22</text>
<text x="137" y="1036" font-size="27" fill="#0000FF">y = 17.1-3.07x<tspan font-style="italic">; R²</tspan> = 0.17; <tspan font-style="italic">p</tspan> = 0.04</text>
<text x="137" y="1068.2" font-size="27" fill="#000">y = 12.6-1.8x<tspan font-style="italic">; R²</tspan> = 0.09; <tspan font-style="italic">p</tspan> = 0.14</text>
<text x="146" y="1619.6" font-size="27" fill="#0000FF">y = 1030-177x<tspan font-style="italic">; R²</tspan> = 0.19; <tspan font-style="italic">p</tspan> = 0.03</text>
<text x="146" y="1652.2" font-size="27" fill="#000">y = 900-138x<tspan font-style="italic">; R²</tspan> = 0.16; <tspan font-style="italic">p</tspan> = 0.06</text>
<text x="876.5" y="472" font-size="27" fill="#0000FF">y = 1080+12x<tspan font-style="italic">; R²</tspan> = 0.09; <tspan font-style="italic">p</tspan> = 0.16</text>
<text x="876.5" y="504.2" font-size="27" fill="#000">y = 1330-10.1x<tspan font-style="italic">; R²</tspan> = 0.05; <tspan font-style="italic">p</tspan> = 0.31</text>
<text x="868.5" y="1058.5" font-size="27" fill="#0000FF">y = 4.52+0.06x<tspan font-style="italic">; R²</tspan> = 0.09; <tspan font-style="italic">p</tspan> = 0.15</text>
<text x="868.5" y="1091.4" font-size="27" fill="#000">y = 5.74-0.03x<tspan font-style="italic">; R²</tspan> = 0.0; <tspan font-style="italic">p</tspan> = 0.6</text>
<text x="876.5" y="1618.5" font-size="27" fill="#0000FF">y = 313+3.04x<tspan font-style="italic">; R²</tspan> = 0.07; <tspan font-style="italic">p</tspan> = 0.22</text>
<text x="876.5" y="1651.4" font-size="27" fill="#000">y = 377-2.07x<tspan font-style="italic">; R²</tspan> = 0.02; <tspan font-style="italic">p</tspan> = 0.48</text>
<circle cx="1362.9" cy="500.6" r="8.2" fill="#E41A1C"/>
<circle cx="1407" cy="500.6" r="8.2" fill="#377EB8"/>
<path d="M1362.9 524.1L1371.5 540.6L1354.3 540.6Z" fill="#E41A1C"/>
<path d="M1407 524.1L1415.6 540.6L1398.4 540.6Z" fill="#377EB8"/>
<text x="1423.5" y="505.2" font-size="27" text-anchor="start" fill="#000">Short-term</text>
<text x="1424.5" y="539.4" font-size="27" text-anchor="start" fill="#000">Long-term</text>
<text transform="translate(1366.7,483.3) rotate(-57.5)" font-size="26.6">Control</text>
<text transform="translate(1408.2,487.3) rotate(-57.5)" font-size="26"><tspan font-style="italic">N</tspan> addition</text>
<line x1="2089.6" y1="15.7" x2="2089.6" y2="811.2" stroke="#222" stroke-width="1.4" stroke-dasharray="13.3 13.7"/>
<line x1="1688" y1="355.2" x2="2483.6" y2="355.2" stroke="#222" stroke-width="1.4" stroke-dasharray="13.3 13.65"/>
<circle cx="1843.4" cy="260.5" r="10.1" fill="#E41A1C"/>
<circle cx="1895.5" cy="342.9" r="10.1" fill="#E41A1C"/>
<circle cx="1829.1" cy="364.7" r="10.1" fill="#E41A1C"/>
<circle cx="1807" cy="376.3" r="10.1" fill="#E41A1C"/>
<circle cx="1757.9" cy="427.6" r="10.1" fill="#E41A1C"/>
<circle cx="1778.9" cy="423.9" r="10.1" fill="#E41A1C"/>
<circle cx="1830.3" cy="471.5" r="10.1" fill="#E41A1C"/>
<circle cx="1874.5" cy="538.6" r="10.1" fill="#E41A1C"/>
<circle cx="1907.5" cy="538.6" r="10.1" fill="#E41A1C"/>
<circle cx="1835.6" cy="582.5" r="10.1" fill="#E41A1C"/>
<circle cx="1828.6" cy="602.8" r="10.1" fill="#E41A1C"/>
<path d="M2393.9 206.8L2406 227.5L2381.8 227.5Z" fill="#E41A1C"/>
<path d="M2327.2 250.6L2339.3 271.3L2315.1 271.3Z" fill="#E41A1C"/>
<path d="M2274 305L2286.1 325.7L2261.9 325.7Z" fill="#E41A1C"/>
<path d="M2294.6 345.4L2306.7 366.1L2282.5 366.1Z" fill="#E41A1C"/>
<path d="M2410.8 357.4L2422.9 378.1L2398.7 378.1Z" fill="#E41A1C"/>
<path d="M2308.5 408L2320.6 428.7L2296.4 428.7Z" fill="#E41A1C"/>
<path d="M2322.4 476.6L2334.5 497.3L2310.3 497.3Z" fill="#E41A1C"/>
<path d="M2329.5 503.6L2341.6 524.3L2317.4 524.3Z" fill="#E41A1C"/>
<path d="M2367 732.3L2379.1 753L2354.9 753Z" fill="#E41A1C"/>
<path d="M2359.1 761.3L2371.2 782L2347 782Z" fill="#E41A1C"/>
<circle cx="1783" cy="115.8" r="10.1" fill="#377EB8"/>
<circle cx="1815.3" cy="109.8" r="10.1" fill="#377EB8"/>
<circle cx="1772.9" cy="167.2" r="10.1" fill="#377EB8"/>
<circle cx="1877.9" cy="176.5" r="10.1" fill="#377EB8"/>
<circle cx="1901.9" cy="177.3" r="10.1" fill="#377EB8"/>
<circle cx="1914.6" cy="254.9" r="10.1" fill="#377EB8"/>
<circle cx="1861" cy="287.1" r="10.1" fill="#377EB8"/>
<circle cx="1804.4" cy="296.8" r="10.1" fill="#377EB8"/>
<circle cx="1841.5" cy="353.8" r="10.1" fill="#377EB8"/>
<circle cx="1840.8" cy="428" r="10.1" fill="#377EB8"/>
<circle cx="1877.9" cy="463.2" r="10.1" fill="#377EB8"/>
<circle cx="1792.8" cy="501.8" r="10.1" fill="#377EB8"/>
<path d="M2295.4 20.5L2307.5 41.2L2283.3 41.2Z" fill="#377EB8"/>
<path d="M2350.5 115.7L2362.6 136.4L2338.4 136.4Z" fill="#377EB8"/>
<path d="M2402.2 128.1L2414.3 148.8L2390.1 148.8Z" fill="#377EB8"/>
<path d="M2236.9 143.8L2249 164.5L2224.8 164.5Z" fill="#377EB8"/>
<path d="M2271 173L2283.1 193.7L2258.9 193.7Z" fill="#377EB8"/>
<path d="M2239.2 202.3L2251.3 223L2227.1 223Z" fill="#377EB8"/>
<path d="M2434 224.4L2446.1 245.1L2421.9 245.1Z" fill="#377EB8"/>
<path d="M2326.5 255.5L2338.6 276.2L2314.4 276.2Z" fill="#377EB8"/>
<path d="M2362.1 276.9L2374.2 297.6L2350 297.6Z" fill="#377EB8"/>
<path d="M2399.2 406.9L2411.3 427.6L2387.1 427.6Z" fill="#377EB8"/>
<path d="M2382.3 420.4L2394.4 441.1L2370.2 441.1Z" fill="#377EB8"/>
<path d="M2307.7 451.1L2319.8 471.8L2295.6 471.8Z" fill="#377EB8"/>
<line x1="2089.6" y1="355.2" x2="1848" y2="296.8" stroke="#0000FF" stroke-width="2.3"/>
<path d="M1831 292.7L1851.7 290L1848.2 304.6Z" fill="#0000FF"/>
<line x1="2089.6" y1="355.2" x2="2022.8" y2="294.7" stroke="#0000FF" stroke-width="2.3"/>
<path d="M2009.8 283L2029.3 290.5L2019.2 301.6Z" fill="#0000FF"/>
<line x1="2089.6" y1="355.2" x2="1796" y2="361.7" stroke="#0000FF" stroke-width="2.3"/>
<path d="M1778.5 362L1797.9 354.1L1798.2 369.1Z" fill="#0000FF"/>
<line x1="2089.6" y1="355.2" x2="1851.4" y2="369.3" stroke="#0000FF" stroke-width="2.3"/>
<path d="M1833.9 370.3L1852.9 361.7L1853.8 376.6Z" fill="#0000FF"/>
<line x1="2089.6" y1="355.2" x2="1906.2" y2="423.2" stroke="#0000FF" stroke-width="2.3"/>
<path d="M1889.8 429.3L1905.5 415.5L1910.7 429.6Z" fill="#0000FF"/>
<line x1="2089.6" y1="355.2" x2="2006.9" y2="427.3" stroke="#0000FF" stroke-width="2.3"/>
<path d="M1993.7 438.8L2003.5 420.3L2013.3 431.6Z" fill="#0000FF"/>
<line x1="2089.6" y1="355.2" x2="2338.8" y2="379.1" stroke="#0000FF" stroke-width="2.3"/>
<path d="M2356.2 380.8L2336.1 386.4L2337.5 371.4Z" fill="#0000FF"/>
<line x1="2089.6" y1="355.2" x2="2222.6" y2="411.1" stroke="#0000FF" stroke-width="2.3"/>
<path d="M2238.7 417.8L2217.8 417.2L2223.7 403.4Z" fill="#0000FF"/>
<line x1="2089.6" y1="355.2" x2="2338.9" y2="476.7" stroke="#0000FF" stroke-width="2.3"/>
<path d="M2354.6 484.4L2333.8 482.6L2340.3 469.1Z" fill="#0000FF"/>
<text x="1756.6" y="277.2" font-size="27.5" text-anchor="start" fill="#000">NO<tspan font-size="15.3" dx="-2" dy="9.5">3</tspan><tspan font-size="15.3" dy="-18">-</tspan><tspan dy="8.5">-N</tspan></text>
<text x="1951.8" y="277.2" font-size="27.5" text-anchor="start" fill="#000">NH<tspan font-size="15.3" dx="-3.5" dy="9.5">4</tspan><tspan font-size="15.3" dy="-18">+</tspan><tspan dy="8.5">-N</tspan></text>
<text x="1741.6" y="383.6" font-size="27.5" text-anchor="start" fill="#000">DON</text>
<text x="1817.7" y="393" font-size="27.5" text-anchor="start" fill="#000">SWC</text>
<text x="1856.3" y="450.3" font-size="27.5" text-anchor="start" fill="#000">TOC</text>
<text x="1969.4" y="457.8" font-size="27.5" text-anchor="start" fill="#000">TP</text>
<text x="2348" y="376.5" font-size="27.5" text-anchor="start" fill="#000">DOC</text>
<text x="2228" y="409.1" font-size="27.5" text-anchor="start" fill="#000">C/N</text>
<text x="2362.2" y="500.9" font-size="27.5" text-anchor="start" fill="#000">pH</text>
<rect x="1687" y="3.7" width="806.6" height="807.5" fill="none" stroke="#333" stroke-width="1.6"/>
<line x1="1723.1" y1="811.2" x2="1723.1" y2="823.8" stroke="#333" stroke-width="1.5"/>
<text x="1726.2" y="845.8" font-size="27.5" text-anchor="middle" fill="#000">−1.0</text>
<line x1="1906.3" y1="811.2" x2="1906.3" y2="823.8" stroke="#333" stroke-width="1.5"/>
<text x="1909.4" y="845.8" font-size="27.5" text-anchor="middle" fill="#000">−0.5</text>
<line x1="2089.6" y1="811.2" x2="2089.6" y2="823.8" stroke="#333" stroke-width="1.5"/>
<text x="2095.8" y="845.8" font-size="27.5" text-anchor="middle" fill="#000">0.0</text>
<line x1="2272.6" y1="811.2" x2="2272.6" y2="823.8" stroke="#333" stroke-width="1.5"/>
<text x="2279.1" y="845.8" font-size="27.5" text-anchor="middle" fill="#000">0.5</text>
<line x1="2455.8" y1="811.2" x2="2455.8" y2="823.8" stroke="#333" stroke-width="1.5"/>
<text x="2461.5" y="845.8" font-size="27.5" text-anchor="middle" fill="#000">1.0</text>
<line x1="1674.4" y1="137.7" x2="1687" y2="137.7" stroke="#333" stroke-width="1.5"/>
<text x="1661.8" y="143.4" font-size="27.5" text-anchor="end" fill="#000">1.0</text>
<line x1="1674.4" y1="355.2" x2="1687" y2="355.2" stroke="#333" stroke-width="1.5"/>
<text x="1668" y="365.9" font-size="27.5" text-anchor="end" fill="#000">0.0</text>
<line x1="1674.4" y1="569.4" x2="1687" y2="569.4" stroke="#333" stroke-width="1.5"/>
<text x="1668.7" y="587.6" font-size="27.5" text-anchor="end" fill="#000">−1.0</text>
<line x1="1674.4" y1="783.7" x2="1687" y2="783.7" stroke="#333" stroke-width="1.5"/>
<text x="1668.7" y="796.1" font-size="27.5" text-anchor="end" fill="#000">−2.0</text>
<circle cx="1718.2" cy="747.9" r="8.2" fill="#E41A1C"/>
<circle cx="1762.3" cy="747.9" r="8.2" fill="#377EB8"/>
<path d="M1718.2 771.4L1726.8 787.9L1709.6 787.9Z" fill="#E41A1C"/>
<path d="M1762.3 771.4L1770.9 787.9L1753.7 787.9Z" fill="#377EB8"/>
<text x="1778.8" y="752.5" font-size="27" text-anchor="start" fill="#000">Short-term</text>
<text x="1779.8" y="786.7" font-size="27" text-anchor="start" fill="#000">Long-term</text>
<text transform="translate(1722,730.6) rotate(-57.5)" font-size="26.6">Control</text>
<text transform="translate(1763.5,734.6) rotate(-57.5)" font-size="26"><tspan font-style="italic">N</tspan> addition</text>
<text x="2097.5" y="873" font-size="29.8" text-anchor="middle" fill="#000">CAP1 29.1%</text>
<line x1="2145.1" y1="897.3" x2="2145.1" y2="1692.3" stroke="#222" stroke-width="1.4" stroke-dasharray="13.3 13.7"/>
<line x1="1685.4" y1="1243.9" x2="2487.3" y2="1243.9" stroke="#222" stroke-width="1.4" stroke-dasharray="13.3 13.7"/>
<circle cx="2344.6" cy="1089.2" r="10.1" fill="#E41A1C"/>
<circle cx="2334.2" cy="1168.8" r="10.1" fill="#E41A1C"/>
<circle cx="2232.3" cy="1200.7" r="10.1" fill="#E41A1C"/>
<circle cx="2226" cy="1225.6" r="10.1" fill="#E41A1C"/>
<circle cx="2457.7" cy="1225.6" r="10.1" fill="#E41A1C"/>
<circle cx="2164.7" cy="1249.6" r="10.1" fill="#E41A1C"/>
<circle cx="2415.9" cy="1253.7" r="10.1" fill="#E41A1C"/>
<circle cx="2377.7" cy="1338.7" r="10.1" fill="#E41A1C"/>
<circle cx="2227.7" cy="1355.3" r="10.1" fill="#E41A1C"/>
<circle cx="2320.5" cy="1440.2" r="10.1" fill="#E41A1C"/>
<circle cx="2128.2" cy="1463.9" r="10.1" fill="#E41A1C"/>
<circle cx="2086.4" cy="1513.2" r="10.1" fill="#E41A1C"/>
<path d="M1947.5 1076.5L1959.6 1097.2L1935.4 1097.2Z" fill="#E41A1C"/>
<path d="M1893.2 1092.3L1905.3 1113L1881.1 1113Z" fill="#E41A1C"/>
<path d="M1904.8 1152L1916.9 1172.7L1892.7 1172.7Z" fill="#E41A1C"/>
<path d="M2107.9 1157.8L2120 1178.5L2095.8 1178.5Z" fill="#E41A1C"/>
<path d="M2161 1138.7L2173.1 1159.4L2148.9 1159.4Z" fill="#E41A1C"/>
<path d="M1986.1 1207.9L1998.2 1228.6L1974 1228.6Z" fill="#E41A1C"/>
<path d="M1983.2 1244L1995.3 1264.7L1971.1 1264.7Z" fill="#E41A1C"/>
<path d="M1928.5 1273.8L1940.6 1294.5L1916.4 1294.5Z" fill="#E41A1C"/>
<path d="M2167.6 1282.5L2179.7 1303.2L2155.5 1303.2Z" fill="#E41A1C"/>
<path d="M1722.5 1366.2L1734.6 1386.9L1710.4 1386.9Z" fill="#E41A1C"/>
<path d="M1955 1374.9L1967.1 1395.6L1942.9 1395.6Z" fill="#E41A1C"/>
<path d="M1799.6 1618.7L1811.7 1639.4L1787.5 1639.4Z" fill="#E41A1C"/>
<circle cx="2165.9" cy="1118.2" r="10.1" fill="#377EB8"/>
<circle cx="2272.9" cy="1148.1" r="10.1" fill="#377EB8"/>
<circle cx="2290.3" cy="1148.1" r="10.1" fill="#377EB8"/>
<circle cx="2430" cy="1201.9" r="10.1" fill="#377EB8"/>
<circle cx="2218.2" cy="1220.6" r="10.1" fill="#377EB8"/>
<circle cx="2424.6" cy="1260.8" r="10.1" fill="#377EB8"/>
<circle cx="2195" cy="1318.8" r="10.1" fill="#377EB8"/>
<circle cx="2425.8" cy="1319.2" r="10.1" fill="#377EB8"/>
<circle cx="2240.1" cy="1334.6" r="10.1" fill="#377EB8"/>
<circle cx="2293.6" cy="1349.1" r="10.1" fill="#377EB8"/>
<circle cx="2256.3" cy="1510.8" r="10.1" fill="#377EB8"/>
<circle cx="2257.5" cy="1539.8" r="10.1" fill="#377EB8"/>
<path d="M1958.7 923.2L1970.8 943.9L1946.6 943.9Z" fill="#377EB8"/>
<path d="M2060.3 1016L2072.4 1036.7L2048.2 1036.7Z" fill="#377EB8"/>
<path d="M2076.8 1026.8L2088.9 1047.5L2064.7 1047.5Z" fill="#377EB8"/>
<path d="M2098 1018.5L2110.1 1039.2L2085.9 1039.2Z" fill="#377EB8"/>
<path d="M2000.6 1057.9L2012.7 1078.6L1988.5 1078.6Z" fill="#377EB8"/>
<path d="M2284.9 1040.1L2297 1060.8L2272.8 1060.8Z" fill="#377EB8"/>
<path d="M2212.4 1148.6L2224.5 1169.3L2200.3 1169.3Z" fill="#377EB8"/>
<path d="M1964.9 1174.8L1977 1195.5L1952.8 1195.5Z" fill="#377EB8"/>
<path d="M1909.4 1257.6L1921.5 1278.3L1897.3 1278.3Z" fill="#377EB8"/>
<path d="M2015.9 1408.9L2028 1429.6L2003.8 1429.6Z" fill="#377EB8"/>
<path d="M2032.5 1644.4L2044.6 1665.1L2020.4 1665.1Z" fill="#377EB8"/>
<circle cx="2415.9" cy="1253.7" r="10.1" fill="#E41A1C"/>
<line x1="2145.1" y1="1243.9" x2="2253.5" y2="1135.6" stroke="#0000FF" stroke-width="2.3"/>
<path d="M2265.8 1123.2L2257.3 1142.3L2246.7 1131.7Z" fill="#0000FF"/>
<line x1="2145.1" y1="1243.9" x2="2320.4" y2="1162.9" stroke="#0000FF" stroke-width="2.3"/>
<path d="M2336.3 1155.5L2321.7 1170.5L2315.4 1156.9Z" fill="#0000FF"/>
<line x1="2145.1" y1="1243.9" x2="1965.9" y2="1217.6" stroke="#0000FF" stroke-width="2.3"/>
<path d="M1948.6 1215L1969 1210.4L1966.8 1225.3Z" fill="#0000FF"/>
<line x1="2145.1" y1="1243.9" x2="1878.8" y2="1276.9" stroke="#0000FF" stroke-width="2.3"/>
<path d="M1861.4 1279L1879.8 1269.2L1881.7 1284.1Z" fill="#0000FF"/>
<line x1="2145.1" y1="1243.9" x2="2039.3" y2="1300.8" stroke="#0000FF" stroke-width="2.3"/>
<path d="M2023.9 1309L2037.5 1293.2L2044.6 1306.4Z" fill="#0000FF"/>
<line x1="2145.1" y1="1243.9" x2="2127.2" y2="1360.2" stroke="#0000FF" stroke-width="2.3"/>
<path d="M2124.6 1377.5L2120.1 1357.1L2135 1359.4Z" fill="#0000FF"/>
<line x1="2145.1" y1="1243.9" x2="2251.5" y2="1445.7" stroke="#0000FF" stroke-width="2.3"/>
<path d="M2259.7 1461.2L2244 1447.5L2257.2 1440.5Z" fill="#0000FF"/>
<line x1="2145.1" y1="1243.9" x2="2331.5" y2="1320.1" stroke="#0000FF" stroke-width="2.3"/>
<path d="M2347.7 1326.7L2326.8 1326.3L2332.5 1312.4Z" fill="#0000FF"/>
<line x1="2145.1" y1="1243.9" x2="2388.2" y2="1308.6" stroke="#0000FF" stroke-width="2.3"/>
<path d="M2405.2 1313.1L2384.4 1315.3L2388.2 1300.8Z" fill="#0000FF"/>
<text x="2222.6" y="1103.1" font-size="27.6" text-anchor="start" fill="#000">NH<tspan font-size="15.3" dx="-3.5" dy="9.5">4</tspan><tspan font-size="15.3" dy="-18">+</tspan><tspan dy="8.5">-N</tspan></text>
<text x="2318" y="1144.5" font-size="27.6" text-anchor="start" fill="#000">NO<tspan font-size="15.3" dx="-2" dy="9.5">3</tspan><tspan font-size="15.3" dy="-18">-</tspan><tspan dy="8.5">-N</tspan></text>
<text x="1887.8" y="1219.1" font-size="27.6" text-anchor="start" fill="#000">DOC</text>
<text x="1839.1" y="1302.2" font-size="27.6" text-anchor="start" fill="#000">pH</text>
<text x="1996.8" y="1333.1" font-size="27.6" text-anchor="start" fill="#000">C/N</text>
<text x="2098.3" y="1396.2" font-size="27.6" text-anchor="start" fill="#000">TP</text>
<text x="2224.7" y="1480.2" font-size="27.6" text-anchor="start" fill="#000">TOC</text>
<text x="2309.7" y="1352.2" font-size="27.6" text-anchor="start" fill="#000">SWC</text>
<text x="2403.8" y="1298.7" font-size="27.6" text-anchor="start" fill="#000">DON</text>
<rect x="1681.3" y="885.1" width="816" height="807.2" fill="none" stroke="#222" stroke-width="2"/>
<line x1="1829.8" y1="1692.3" x2="1829.8" y2="1704.9" stroke="#222" stroke-width="1.5"/>
<text x="1826.4" y="1748.3" font-size="27.5" text-anchor="middle" fill="#000">−1.0</text>
<line x1="1987.3" y1="1692.3" x2="1987.3" y2="1704.9" stroke="#222" stroke-width="1.5"/>
<text x="1983.6" y="1748.3" font-size="27.5" text-anchor="middle" fill="#000">−0.5</text>
<line x1="2145.1" y1="1692.3" x2="2145.1" y2="1704.9" stroke="#222" stroke-width="1.5"/>
<text x="2138" y="1748.3" font-size="27.5" text-anchor="middle" fill="#000">0.0</text>
<line x1="2303.2" y1="1692.3" x2="2303.2" y2="1704.9" stroke="#222" stroke-width="1.5"/>
<text x="2295.9" y="1748.3" font-size="27.5" text-anchor="middle" fill="#000">0.5</text>
<line x1="2460.3" y1="1692.3" x2="2460.3" y2="1704.9" stroke="#222" stroke-width="1.5"/>
<text x="2452.9" y="1748.3" font-size="27.5" text-anchor="middle" fill="#000">1.0</text>
<line x1="1668.7" y1="926" x2="1681.3" y2="926" stroke="#222" stroke-width="1.5"/>
<text x="1661.1" y="935.3" font-size="27.5" text-anchor="end" fill="#000">1.0</text>
<line x1="1668.7" y1="1084.9" x2="1681.3" y2="1084.9" stroke="#222" stroke-width="1.5"/>
<text x="1661.4" y="1094.2" font-size="27.5" text-anchor="end" fill="#000">0.5</text>
<line x1="1668.7" y1="1243.8" x2="1681.3" y2="1243.8" stroke="#222" stroke-width="1.5"/>
<text x="1661.4" y="1253.1" font-size="27.5" text-anchor="end" fill="#000">0.0</text>
<line x1="1668.7" y1="1402.5" x2="1681.3" y2="1402.5" stroke="#222" stroke-width="1.5"/>
<text x="1668.4" y="1412.5" font-size="27.5" text-anchor="end" fill="#000">−0.5</text>
<line x1="1668.7" y1="1561.4" x2="1681.3" y2="1561.4" stroke="#222" stroke-width="1.5"/>
<text x="1668.4" y="1571.4" font-size="27.5" text-anchor="end" fill="#000">−1.0</text>
<text x="2122" y="1798.8" font-size="29.8" text-anchor="middle" fill="#000">CAP1 19.5%</text>
</svg></body></html>
